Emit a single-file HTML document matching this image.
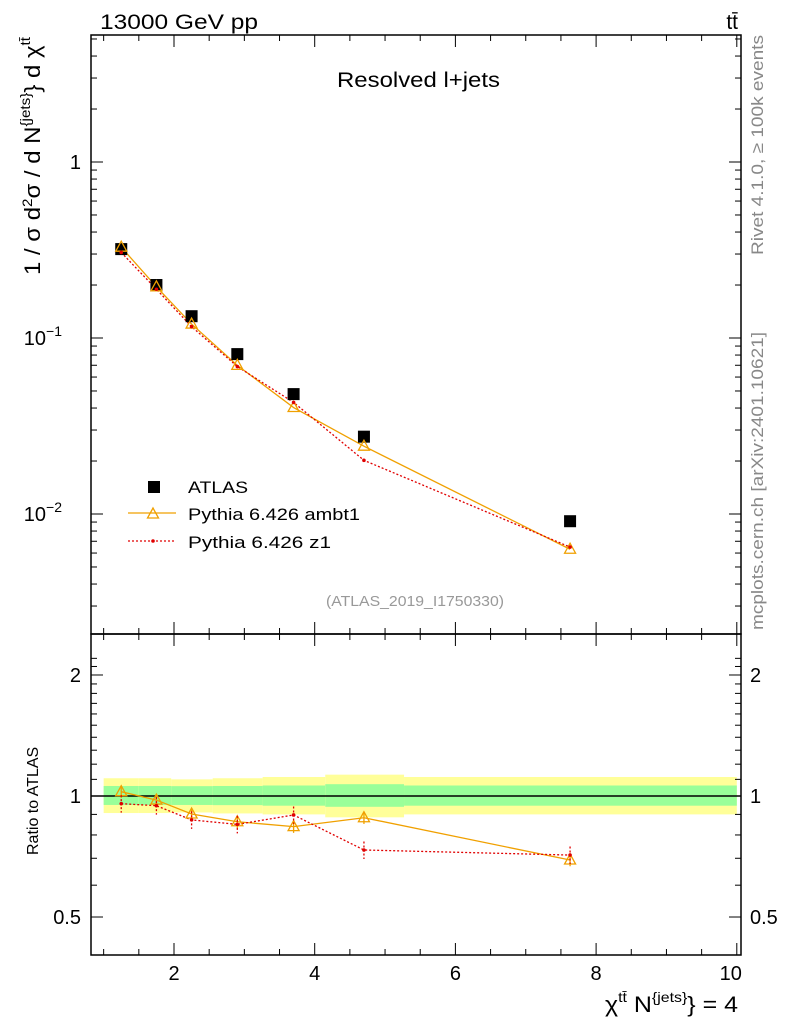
<!DOCTYPE html>
<html><head><meta charset="utf-8"><style>
body{margin:0;background:#fff}
svg text{font-family:"Liberation Sans",sans-serif}
</style></head><body>
<svg id="c" width="786" height="1024" xmlns="http://www.w3.org/2000/svg">
<g id="g"></g>
</svg>
<script>
const xs=[1.25,1.75,2.25,2.9,3.7,4.7,7.63];
const atlas=[0.32,0.20,0.133,0.081,0.048,0.0275,0.0091];
const ambt1Ratio=[1.025,0.977,0.902,0.863,0.839,0.883,0.693];
const z1Ratio=[0.957,0.946,0.872,0.85,0.897,0.734,0.713];
const binEdges=[1.0,1.5,1.96,2.55,3.26,4.15,5.27,10.0];
const yelUp=[1.107,1.107,1.10,1.107,1.115,1.13,1.115];
const yelDn=[0.907,0.907,0.91,0.905,0.90,0.885,0.90];
const grnUp=[1.059,1.059,1.058,1.059,1.062,1.07,1.062];
const grnDn=[0.95,0.95,0.95,0.949,0.946,0.94,0.946];
const xTicks=[2,4,6,8,10];
const yTicks=[[1,"1"],[0.1,"10"],[0.01,"10"]];
const rTicks=[[2,"2"],[1,"1"],[0.5,"0.5"]];
const NS="http://www.w3.org/2000/svg",G=document.getElementById('g');
const L=91,R=741,T=35,B=634,RB=955;
const X=v=>174+(v-2)*70.35;
const Y=v=>162-Math.log10(v)*176;
const RY=v=>796-Math.log10(v)*402;
function el(t,a,p){const e=document.createElementNS(NS,t);for(const k in a)e.setAttribute(k,a[k]);(p||G).appendChild(e);return e;}
for(let i=0;i<7;i++){
 let r=el('rect',{x:X(binEdges[i]),y:RY(yelUp[i]),width:X(binEdges[i+1])-X(binEdges[i]),height:RY(yelDn[i])-RY(yelUp[i]),fill:'#ffff99'});
 
 let g2=el('rect',{x:X(binEdges[i]),y:RY(grnUp[i]),width:X(binEdges[i+1])-X(binEdges[i]),height:RY(grnDn[i])-RY(grnUp[i]),fill:'#99ff99'});
 
}
el('line',{x1:L,x2:R,y1:RY(1),y2:RY(1),stroke:'#000','stroke-width':1.5});
el('rect',{x:L,y:T,width:R-L,height:B-T,fill:'none',stroke:'#000','stroke-width':1.5});
el('rect',{x:L,y:B,width:R-L,height:RB-B,fill:'none',stroke:'#000','stroke-width':1.5});
for(let v=1;v<=10.01;v+=0.5){const big=Math.abs(v-Math.round(v))<1e-6&&Math.round(v)%2==0;const len=big?12:6;
 for(const [y0,d] of [[T,1],[B,-1],[B,1],[RB,-1]]) el('line',{x1:X(v),x2:X(v),y1:y0,y2:y0+d*len,stroke:'#000'});}
xTicks.forEach(v=>{const t=el('text',{x:X(v)-(v==10?6:0),y:980,'font-size':20,'text-anchor':'middle'});t.textContent=v;
 });
for(let e=-3;e<=0;e++)for(let m=1;m<10;m++){const v=m*Math.pow(10,e);const y=Y(v);if(y<T||y>B)continue;const len=m==1?12:6;
 el('line',{x1:L,x2:L+len,y1:y,y2:y,stroke:'#000'});el('line',{x1:R,x2:R-len,y1:y,y2:y,stroke:'#000'});}
yTicks.forEach(([v,s],i)=>{const t=el('text',{x:i==0?81:66,y:Y(v)+7,'font-size':20,'text-anchor':'end'});t.textContent=s;
 if(i>0){const sp=el('tspan',{dy:-9,'font-size':14},t);sp.textContent=i==1?'−1':'−2';t.setAttribute('x',62);t.setAttribute('text-anchor','end');}
 });
for(let v=0.3;v<=2.3;v+=0.1){const y=RY(v);if(y<B||y>RB)continue;const big=[0.5,1,2].some(q=>Math.abs(q-v)<1e-6);const len=big?12:6;
 el('line',{x1:L,x2:L+len,y1:y,y2:y,stroke:'#000'});el('line',{x1:R,x2:R-len,y1:y,y2:y,stroke:'#000'});}
rTicks.forEach(([v,s])=>{for(const [x,a] of [[81,'end'],[750,'start']]){const t=el('text',{x:x,y:RY(v)+7,'font-size':20,'text-anchor':a});t.textContent=s;
 }});
const amb=xs.map((x,i)=>atlas[i]*ambt1Ratio[i]), z1=xs.map((x,i)=>atlas[i]*z1Ratio[i]);
function line(vals,f,st,dash,name){const p=el('polyline',{points:xs.map((x,i)=>X(x)+','+f(vals[i])).join(' '),fill:'none',stroke:st,'stroke-width':1.3,'stroke-dasharray':dash});
 }
line(amb,Y,'#f0a000','', 'ambt1-line');line(z1,Y,'#e00000','2,2','z1-line');
line(ambt1Ratio,RY,'#f0a000','','ambt1-ratio-line');line(z1Ratio,RY,'#e00000','2,2','z1-ratio-line');
function tri(x,y){const p=el('polygon',{points:`${x},${y-6} ${x-5.5},${y+4} ${x+5.5},${y+4}`,fill:'none',stroke:'#f0a000','stroke-width':1.3});}
xs.forEach((x,i)=>{
 const r=el('rect',{x:X(x)-6,y:Y(atlas[i])-6,width:12,height:12,fill:'#000'});
 tri(X(x),Y(amb[i]));tri(X(x),RY(ambt1Ratio[i]));
 el('line',{x1:X(x),x2:X(x),y1:RY(ambt1Ratio[i]*1.035),y2:RY(ambt1Ratio[i]*0.965),stroke:'#f0a000','stroke-width':1.3});
 el('line',{x1:X(x),x2:X(x),y1:RY(z1Ratio[i]*1.05),y2:RY(z1Ratio[i]*0.95),stroke:'#e00000','stroke-width':1.3,'stroke-dasharray':'2,2'});
 for(const [f,v,c] of [[Y,z1[i],'#e00000'],[RY,z1Ratio[i],'#e00000']]){const d=el('circle',{cx:X(x),cy:f(v),r:1.8,fill:c});}
});
el('rect',{x:148,y:481,width:12,height:12,fill:'#000'});
el('line',{x1:128,x2:176,y1:513,y2:513,stroke:'#f0a000','stroke-width':1.3});tri(153,514);
el('line',{x1:128,x2:176,y1:541,y2:541,stroke:'#e00000','stroke-width':1.3,'stroke-dasharray':'2,2'});el('circle',{cx:153,cy:541,r:1.8,fill:'#e00000'});
[['ATLAS',493,60],['Pythia 6.426 ambt1',520,172],['Pythia 6.426 z1',548,143]].forEach(([s,y,w])=>{const t=el('text',{x:188,y:y,'font-size':17,textLength:w,lengthAdjust:'spacingAndGlyphs'});t.textContent=s;});
</script>
<svg width="786" height="1024" style="position:absolute;left:0;top:0">
<text x="100" y="29" font-size="21" textLength="158" lengthAdjust="spacingAndGlyphs">13000 GeV pp</text>
<text x="738" y="29" font-size="21" text-anchor="end">tt̄</text>
<text x="337" y="87" font-size="21" textLength="163" lengthAdjust="spacingAndGlyphs">Resolved l+jets</text>
<text x="326" y="606" font-size="15" fill="#999" textLength="178" lengthAdjust="spacingAndGlyphs">(ATLAS_2019_I1750330)</text>
<text transform="translate(763,255) rotate(-90)" font-size="17" fill="#888" textLength="220" lengthAdjust="spacingAndGlyphs">Rivet 4.1.0, ≥ 100k events</text>
<text transform="translate(763,630) rotate(-90)" font-size="17" fill="#888" textLength="298" lengthAdjust="spacingAndGlyphs">mcplots.cern.ch [arXiv:2401.10621]</text>
<text transform="translate(40,275) rotate(-90)" font-size="22" textLength="238" lengthAdjust="spacingAndGlyphs">1 / σ d<tspan dy="-8" font-size="14">2</tspan><tspan dy="8">σ / d N</tspan><tspan dy="-10" font-size="14">{jets}</tspan><tspan dy="10">} d χ</tspan><tspan dy="-10" font-size="14">tt̄</tspan></text>
<text transform="translate(38,855) rotate(-90)" font-size="16">Ratio to ATLAS</text>
<text x="605" y="1012" font-size="22" textLength="133" lengthAdjust="spacingAndGlyphs">χ<tspan dy="-10" font-size="14">tt̄</tspan><tspan dy="10"> N</tspan><tspan dy="-10" font-size="14">{jets}</tspan><tspan dy="10">} = 4</tspan></text>
</svg>
</body></html>
